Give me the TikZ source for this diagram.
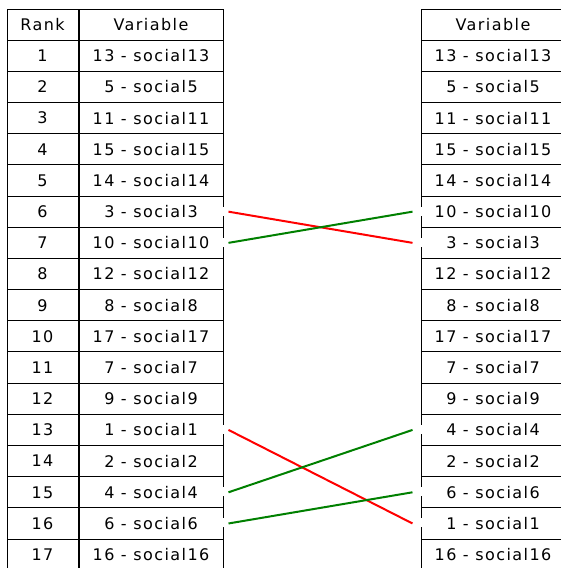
\documentclass[tikz,border=0pt]{standalone}
\usepackage{fontspec}
\setmainfont{DejaVu Sans}[LetterSpace=9]
\usepackage{tikz}
\usetikzlibrary{positioning}

\tikzset{
  cell/.style={draw,rectangle,line width=1pt,inner sep=0pt,
    minimum height=31.18pt,font=\fontsize{16}{18}\selectfont},
  rankcell/.style={cell,minimum width=71pt},
  varcell/.style={cell,minimum width=144pt},
  up/.style={line width=2pt,green!50!black},
  down/.style={line width=2pt,red},
  gap/.style={line width=2pt,white}
}

\begin{document}
\begin{tikzpicture}[x=1pt,y=-1pt]
    \useasboundingbox (0,0) rectangle (561,568);
    \clip (0,0) rectangle (561,568);

    % headers
    \node[rankcell] (lh) at (42.5,24.59) {Rank};
    \node[varcell,right=0pt of lh] (lvh) {Variable};
    \node[varcell] (rvh) at (493,24.59) {Variable};

    % left table
    \foreach \v [count=\r] in {13,5,11,15,14,3,10,12,8,17,7,9,1,2,4,6,16} {
      \node[rankcell] (lr\r) at (42.5,24.59+31.18*\r) {\r};
      \node[varcell,right=0pt of lr\r] (lv\r) {\v\ - social\v};
    }

    % right table
    \foreach \v [count=\r] in {13,5,11,15,14,10,3,12,8,17,7,9,4,2,6,1,16} {
      \node[varcell] (rv\r) at (493,24.59+31.18*\r) {\v\ - social\v};
    }

    % gaps in the borders
    \foreach \n in {lv6,lv7,lv13,lv15,lv16} {
      \draw[gap] ([yshift=-4pt]\n.east) -- ([yshift=5pt]\n.east);
    }
    \foreach \n in {rv6,rv7,rv13,rv15,rv16} {
      \draw[gap] ([yshift=-4pt]\n.west) -- ([yshift=5pt]\n.west);
    }

    % changes of rank
    \draw[down] ([xshift=5pt]lv6.east) -- ([xshift=-8pt]rv7.west);
    \draw[up] ([xshift=5pt]lv7.east) -- ([xshift=-8pt]rv6.west);
    \draw[down] ([xshift=5pt]lv13.east) -- ([xshift=-8pt]rv16.west);
    \draw[up] ([xshift=5pt]lv15.east) -- ([xshift=-8pt]rv13.west);
    \draw[up] ([xshift=5pt]lv16.east) -- ([xshift=-8pt]rv15.west);

\end{tikzpicture}
\end{document}
